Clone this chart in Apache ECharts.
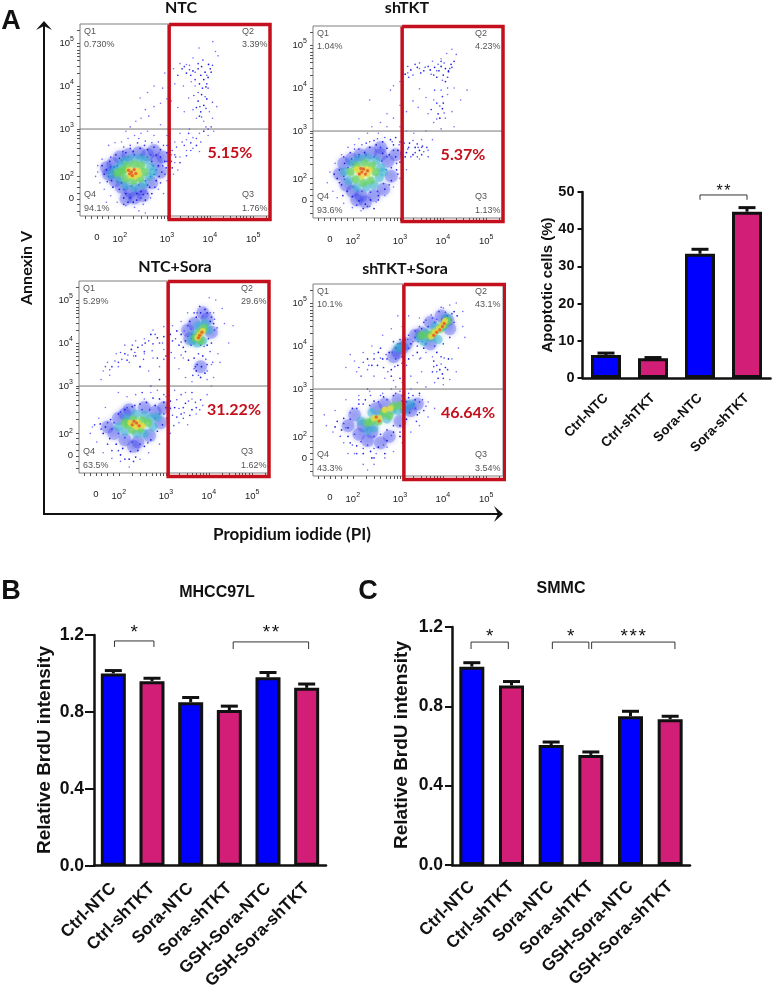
<!DOCTYPE html>
<html><head><meta charset="utf-8">
<style>html,body{margin:0;padding:0;background:#fff}#c{width:772px;height:992px}</style>
<script src="https://cdn.jsdelivr.net/npm/echarts@6/dist/echarts.min.js"></script>
</head><body><div id="c"></div>
<script>
// ---------- Bar data ----------
const apoCats = ['Ctrl-NTC','Ctrl-shTKT','Sora-NTC','Sora-shTKT'];
const apoVals = [6.2,5.3,33.4,44.7];
const apoTops = [6.7,5.5,34.6,45.8];
const brduCats = ['Ctrl-NTC','Ctrl-shTKT','Sora-NTC','Sora-shTKT','GSH-Sora-NTC','GSH-Sora-shTKT'];
const mhccVals = [1.0,0.96,0.85,0.81,0.98,0.925];
const mhccTops = [1.015,0.975,0.875,0.83,1.005,0.945];
const smmcVals = [1.0,0.905,0.605,0.555,0.75,0.735];
const smmcTops = [1.02,0.925,0.62,0.57,0.775,0.75];
const apoBrackets = [[2,3,49.2,47.9,51,'**']];
const mhccBrackets = [[0.03,1.05,1.169,1.138,1.231,'*'],[3.1,5.05,1.164,1.127,1.231,'**']];
const smmcBrackets = [[-0.02,0.92,1.124,1.089,1.17,'*'],[2.03,2.95,1.124,1.089,1.17,'*'],[3.02,5.12,1.124,1.089,1.17,'***']];

// ---------- Flow plots: values, in hundredths of a display decade ----------
const flowTitles = ['NTC','shTKT','NTC+Sora','shTKT+Sora'];
const flowQ1 = ['0.730%','1.04%','5.29%','10.1%'];
const flowQ2 = ['3.39%','4.23%','29.6%','43.1%'];
const flowQ3 = ['1.76%','1.13%','1.62%','3.54%'];
const flowQ4 = ['94.1%','93.6%','63.5%','43.3%'];
const flowGatePct = ['5.15%','5.37%','31.22%','46.64%'];
const flowGateX = [305,305,305,309];
const xTickVals = [138,191,300,399,499];
const yTickVals = [140,188,300,400,500];
const tickPowers = ['0','2','3','4','5'];
const minorTicks = [110,125,138,150,165,178,191,222,240,255,268,278,286,294,300,330,348,360,370,378,385,392,399,429,447,459,469,477,484,492,499,529];

const ntcSparse=[[406,503],[374,488],[412,480],[418,470],[345,450],[330,452],[315,440],[352,448],[360,465],[318,405],[338,400],[356,410],[365,400],[300,370],[285,360],[270,352],[258,330],[250,345],[240,325],[228,318],[215,305],[205,295],[270,400],[255,385],[238,372],[295,430],[290,395],[310,365],[325,350],[340,340],[350,372],[360,345],[368,325],[385,318],[398,340],[415,352],[405,325],[390,305],[375,290],[395,285],[408,295],[360,280],[345,275],[330,290],[318,270],[300,285],[285,310],[270,285],[255,295],[240,290],[225,285],[210,278],[195,270],[180,268],[165,262],[345,250],[360,255],[375,248],[330,235],[318,222],[310,240],[150,230],[140,215],[135,190],[145,175],[155,160],[170,145],[185,130],[205,122],[225,118],[245,125],[262,140],[280,160],[300,180],[292,150],[315,195],[325,205],[140,200],[160,130],[235,110],[250,105]];
const ntcBlue=[[372,440],[380,445],[388,432],[396,450],[400,440],[378,425],[385,415],[390,398],[375,405],[360,435],[345,430],[335,440],[395,420],[380,380],[372,365],[385,355],[378,340],[368,350],[392,370],[160,205],[168,225],[172,180],[182,240],[190,160],[205,150],[215,140],[230,150],[245,148],[260,165],[275,180],[288,200],[295,225],[300,245],[285,252],[270,258],[255,252],[238,255],[222,248],[205,245],[190,232],[178,212],[165,190],[298,210],[305,232],[312,210],[285,235],[275,240],[265,225],[280,215],[270,195],[282,190],[255,170],[240,155],[195,175],[180,195],[200,140],[222,130],[230,135],[210,130],[155,195],[150,215],[175,165],[265,150],[250,135]];
const ntcBlue2=[[175,200],[185,215],[195,228],[210,235],[225,240],[240,240],[255,235],[268,215],[275,205],[262,190],[250,180],[235,170],[218,168],[200,160],[185,178],[170,212],[290,215],[300,225],[295,195],[305,215],[310,225],[285,175],[262,240],[248,262],[232,268],[215,255],[198,248],[170,235],[162,178],[200,125],[240,140],[255,150],[272,165],[320,235],[330,222],[345,238],[355,268],[368,262],[385,295],[395,300],[350,290],[375,330],[382,395],[365,415],[355,425],[392,405],[402,432],[372,452],[340,445],[325,425]];
const ntcExtra=[[365,432],[392,425],[405,448],[352,438],[383,460],[395,395],[372,385],[388,375],[362,378],[376,352],[390,348],[380,328],[405,362],[352,300],[335,270],[322,258],[340,262],[355,250],[368,278],[378,270],[402,305],[300,262],[312,250],[318,240],[305,258],[292,262],[280,270],[265,268],[250,272],[235,278],[215,262],[200,258]];
const ntcHalo=[[165,195],[175,220],[180,180],[190,235],[195,165],[210,240],[215,155],[235,245],[240,160],[255,240],[265,175],[275,225],[285,200],[160,210],[290,235],[270,250],[225,140],[205,138],[245,145]];
const ntcCyan=[[180,205],[190,185],[200,225],[215,230],[235,232],[250,228],[262,212],[258,190],[245,172],[225,165],[205,170],[172,195],[268,200],[192,215]];
const ntcGreen=[[195,200],[205,185],[208,215],[225,218],[240,215],[248,200],[238,185],[222,180],[200,205],[186,198]];
const ntcYellow=[[212,205],[222,198],[232,203],[226,190],[215,192],[235,195]];
const ntcRed=[[218,200],[224,206],[214,196],[228,197],[220,192],[211,204]];

const shSparse=[[430,478],[420,490],[408,480],[395,468],[375,462],[345,445],[318,435],[300,415],[285,405],[278,395],[230,372],[345,398],[360,378],[378,372],[395,395],[410,385],[425,400],[440,372],[455,395],[420,345],[405,330],[378,320],[395,305],[425,310],[365,340],[342,355],[330,370],[315,345],[300,360],[285,330],[270,340],[255,320],[235,310],[225,295],[250,295],[270,310],[205,282],[195,268],[180,262],[165,245],[150,225],[138,205],[132,180],[145,160],[155,145],[170,132],[190,122],[210,115],[230,125],[245,135],[265,150],[285,170],[300,190],[315,210],[345,235],[365,255],[350,280],[332,295],[315,300],[300,310],[360,300],[375,280]];
const shBlue=[[395,450],[405,445],[412,438],[400,430],[390,440],[380,448],[418,455],[425,462],[370,442],[355,440],[340,448],[325,442],[312,432],[385,425],[405,415],[398,352],[388,340],[392,330],[400,365],[412,440],[322,272],[335,262],[345,255],[330,245],[315,250],[305,262],[295,255],[285,268],[270,260],[278,280],[290,285],[260,275],[245,268],[230,262],[218,250],[205,245],[188,235],[172,225],[160,210],[155,190],[165,175],[178,160],[190,148],[205,138],[220,130],[232,140],[250,150],[265,165],[280,185],[292,210],[300,228],[312,240],[290,240],[275,245],[260,248],[148,200],[168,150],[240,120],[215,120]];
const shBlue2=[[170,195],[180,215],[192,222],[205,240],[222,245],[240,240],[258,230],[268,210],[262,178],[248,160],[232,158],[212,160],[192,170],[172,188],[280,215],[292,225],[303,245],[320,262],[335,250],[350,245],[362,262],[300,275],[285,255],[270,240],[255,262],[240,278],[222,272],[205,258],[185,250],[170,240],[160,180],[200,128],[225,125],[250,140],[275,175],[295,200],[340,270],[352,265],[372,350],[385,365],[398,380],[410,425],[420,448],[395,462],[365,450],[348,435],[335,455],[320,425],[305,420],[378,430]];
const shExtra=[[402,458],[388,455],[415,445],[372,432],[358,448],[345,458],[330,430],[318,450],[385,440],[398,418],[410,400],[380,395],[392,358],[402,342],[385,328],[330,278],[342,262],[355,252],[325,240],[340,240],[310,272],[298,268],[318,258],[302,250],[282,275],[265,285],[248,282],[230,275],[212,268],[195,258],[350,262],[365,240]];
const shHalo=[[160,200],[170,225],[175,175],[188,235],[190,160],[208,245],[210,150],[232,250],[240,150],[255,245],[262,165],[272,230],[280,195],[290,245],[255,262],[220,135],[200,140]];
const shCyan=[[172,205],[182,185],[190,225],[205,235],[225,238],[245,232],[255,215],[252,192],[240,175],[222,170],[200,170],[262,205]];
const shGreen=[[186,205],[198,188],[200,218],[218,225],[235,220],[243,205],[232,185],[215,180]];
const shYellow=[[205,205],[218,212],[225,200],[212,195],[230,210],[200,212]];
const shRed=[[212,205],[220,200],[206,200],[216,212],[225,208],[210,213]];

const nsSparse=[[430,480],[415,500],[400,505],[410,470],[435,445],[455,440],[445,400],[420,375],[425,355],[405,350],[350,470],[335,450],[315,440],[295,438],[270,430],[250,410],[230,405],[205,395],[185,375],[165,355],[155,335],[150,315],[170,325],[190,345],[215,355],[240,345],[260,335],[285,345],[305,330],[330,340],[345,320],[360,310],[395,315],[410,320],[265,285],[250,270],[230,280],[210,275],[190,285],[160,250],[145,225],[130,205],[125,190],[140,170],[155,145],[175,132],[195,125],[215,112],[240,130],[260,145],[285,165],[310,190],[330,215],[350,210],[370,235],[385,255],[395,280],[405,300],[280,290],[300,275],[320,290],[345,285],[360,270],[225,370],[250,375],[270,365],[295,385],[320,365],[340,365]];
const nsBlue=[[395,470],[402,450],[390,478],[380,470],[370,460],[355,450],[410,445],[395,395],[405,400],[345,405],[335,420],[325,428],[310,420],[295,415],[280,412],[265,420],[252,400],[235,390],[220,385],[205,375],[360,410],[372,350],[382,345],[390,330],[370,335],[380,320],[365,365],[385,370],[352,360],[310,265],[320,250],[335,235],[345,260],[360,245],[305,240],[295,262],[285,270],[270,272],[255,262],[240,258],[222,252],[205,245],[190,235],[172,222],[160,205],[148,212],[155,190],[170,178],[185,165],[200,155],[218,148],[235,150],[250,160],[265,175],[280,195],[292,210],[302,225],[300,250],[275,255],[215,130],[230,135],[195,140],[340,390],[380,395]];
const nsBlue2=[[180,215],[195,240],[210,250],[228,255],[245,245],[262,245],[275,225],[285,235],[295,235],[300,250],[310,248],[325,228],[340,250],[355,232],[370,250],[380,268],[360,285],[258,168],[240,165],[222,170],[205,180],[190,190],[175,200],[165,215],[150,200],[135,210],[190,150],[175,150],[165,165],[205,130],[225,125],[360,420],[350,440],[365,470],[378,485],[405,460],[412,430],[398,410],[358,395],[345,380],[330,395],[315,405],[285,400],[270,398],[250,380],[230,370],[210,360],[190,355],[175,345],[368,345],[395,350],[375,375],[362,325],[240,345],[280,365],[300,370],[265,300],[245,285],[285,315]];
const nsExtra=[[350,415],[342,428],[358,432],[372,470],[385,462],[402,470],[412,455],[418,435],[335,402],[322,410],[305,408],[292,400],[275,420],[260,405],[245,395],[228,378],[212,372],[198,362],[182,358],[170,338],[160,345],[195,378],[222,395],[248,362],[268,382],[295,362],[312,378],[335,372],[388,392],[402,380],[392,362],[375,325],[365,340],[395,335],[408,355],[330,248],[342,238],[352,265],[368,262],[378,245],[315,232],[325,268],[335,280],[308,278],[295,280],[318,208],[340,225]];
const nsHalo=[[165,205],[180,190],[190,225],[205,175],[215,245],[235,170],[250,250],[262,185],[275,240],[288,215],[295,250],[205,235],[225,160],[355,410],[365,445],[395,455],[405,425],[350,430],[385,470],[380,345]];
const nsCyan=[[190,205],[205,195],[210,225],[230,235],[250,232],[265,225],[270,205],[250,190],[232,190],[280,228],[365,420],[375,440],[390,445],[398,430],[372,400],[385,405],[360,405]];
const nsGreen=[[212,210],[225,222],[245,220],[258,215],[240,200],[222,198],[205,215],[378,425],[388,435],[368,412],[380,405]];
const nsYellow=[[225,210],[235,215],[245,208],[232,205],[218,215],[378,420],[385,428],[373,412]];
const nsRed=[[232,214],[226,218],[238,208],[222,210],[378,418],[383,425],[375,412]];

const stSparse=[[445,480],[430,500],[415,495],[400,488],[445,445],[450,420],[435,395],[420,370],[430,340],[415,322],[400,310],[380,315],[360,305],[340,315],[325,330],[305,315],[285,320],[265,325],[240,330],[225,345],[200,340],[195,365],[215,385],[235,400],[260,425],[280,440],[305,445],[320,470],[345,465],[295,470],[185,380],[175,350],[345,370],[360,385],[375,375],[350,340],[325,300],[345,285],[365,270],[380,255],[365,235],[345,215],[325,200],[305,175],[285,155],[265,140],[240,125],[215,125],[195,150],[170,175],[145,200],[130,215],[125,240],[150,250],[175,275],[205,285],[230,295],[260,290],[290,305],[310,285],[245,150],[270,165],[225,112],[180,150]];
const stBlue=[[425,480],[432,470],[410,470],[398,462],[380,455],[365,445],[350,440],[335,420],[325,405],[312,415],[300,405],[290,395],[275,385],[260,370],[248,355],[235,355],[225,370],[280,345],[295,355],[310,340],[320,370],[340,385],[355,395],[385,385],[378,365],[392,345],[405,350],[412,370],[398,335],[388,325],[250,385],[305,375],[345,290],[332,265],[322,245],[340,240],[315,230],[300,215],[285,200],[270,180],[250,165],[232,155],[215,150],[200,168],[180,190],[165,205],[155,225],[170,232],[190,255],[205,265],[220,275],[240,272],[262,282],[285,285],[305,272],[320,280],[335,275],[300,190],[235,140],[265,150],[180,210],[150,212]];
const stBlue2=[[170,220],[185,230],[200,255],[215,265],[230,262],[250,270],[270,275],[290,290],[305,285],[315,270],[330,285],[345,270],[355,250],[338,225],[300,200],[285,215],[270,205],[255,195],[240,190],[225,170],[210,178],[195,195],[240,140],[200,150],[185,175],[225,300],[285,410],[300,415],[320,425],[335,435],[355,455],[375,465],[390,480],[420,475],[425,455],[415,420],[400,405],[380,400],[360,405],[340,400],[320,395],[305,360],[290,370],[270,370],[255,395],[240,370],[262,350],[280,330],[300,325],[385,355],[400,325],[410,345],[375,340],[395,375]];
const stExtra=[[345,445],[360,460],[372,472],[385,462],[405,478],[395,490],[418,460],[352,410],[342,410],[330,410],[318,415],[308,385],[295,405],[282,385],[268,380],[255,372],[240,382],[228,355],[215,362],[205,350],[210,330],[272,340],[288,352],[315,355],[330,378],[348,372],[385,340],[395,358],[402,372],[378,352],[345,245],[335,255],[352,275],[360,260],[320,290],[300,295],[280,300],[255,285],[232,285],[205,275],[185,245],[175,210],[162,190],[190,170],[215,162],[240,162],[262,170],[280,192]];
const stHalo=[[180,215],[195,240],[205,195],[225,180],[245,255],[255,175],[275,190],[265,265],[295,275],[300,225],[315,260],[325,250],[340,265],[215,215],[235,200],[285,375],[295,385],[305,395],[315,405],[335,425],[350,430],[370,455],[395,470],[410,460],[415,440],[370,405]];
const stCyan=[[210,225],[225,205],[240,210],[235,245],[255,240],[270,230],[280,250],[295,250],[310,250],[325,265],[305,400],[295,395],[345,420],[360,430],[380,445],[400,445],[408,465],[372,420],[388,415],[355,410]];
const stGreen=[[235,225],[250,225],[262,245],[275,238],[285,260],[300,262],[225,222],[350,425],[365,425],[378,430],[392,440],[402,450],[410,458]];
const stYellow=[[240,232],[252,232],[265,252],[278,255],[380,432],[390,440],[398,448],[372,422],[404,458]];
const stRed=[[245,235],[252,226],[385,432],[392,438],[378,425],[398,445],[402,452]];

const flowLayers=[
 {ntc:ntcHalo,sh:shHalo,ns:nsHalo,st:stHalo,c:'#2d35e8',s:13,o:.28,b:5},
 {ntc:ntcSparse,sh:shSparse,ns:nsSparse,st:stSparse,c:'#6f6fff',s:1.6,o:1,b:0},
 {ntc:ntcBlue,sh:shBlue,ns:nsBlue,st:stBlue,c:'#1c1cdc',s:1.7,o:1,b:0},
 {ntc:ntcBlue2,sh:shBlue2,ns:nsBlue2,st:stBlue2,c:'#3a3af0',s:1.7,o:1,b:0},
 {ntc:ntcExtra,sh:shExtra,ns:nsExtra,st:stExtra,c:'#4a4af5',s:1.6,o:1,b:0},
 {ntc:ntcCyan,sh:shCyan,ns:nsCyan,st:stCyan,c:'#2fb0d0',s:9,o:.4,b:4},
 {ntc:ntcGreen,sh:shGreen,ns:nsGreen,st:stGreen,c:'#62d060',s:8,o:.55,b:3},
 {ntc:ntcYellow,sh:shYellow,ns:nsYellow,st:stYellow,c:'#e2dc45',s:6,o:.7,b:2},
 {ntc:ntcRed,sh:shRed,ns:nsRed,st:stRed,c:'#e8602c',s:3,o:.8,b:1}
];
const flowKeys=['ntc','sh','ns','st'];
const flowBox=[[80,24],[313,26],[79,281],[313,284]];
const flowMin=[99,98], flowMax=[538,544];

const grid=[],xAxis=[],yAxis=[],series=[],graphic=[];
const ARIAL='"Liberation Sans",Arial,sans-serif', LATO='Lato,"Open Sans",sans-serif';
function txt(t,x,y,o){graphic.push({type:'text',x,y,rotation:o.rot||0,silent:true,style:{text:t,fill:o.fill||'#111',font:(o.w||'normal')+' '+o.size+'px '+(o.fam||ARIAL),textAlign:o.al||'center',textVerticalAlign:'middle'}});}

flowKeys.forEach((k,i)=>{
  const [L,T]=flowBox[i];
  grid.push({left:L,top:T,width:190,height:192,show:true,borderColor:'#7f7f7f',borderWidth:1,backgroundColor:'#fff'});
  const rich={s:{fontSize:7,fontFamily:ARIAL,color:'#222',padding:[0,0,7,0]},b:{fontSize:9.5,fontFamily:ARIAL,color:'#222'}};
  const fmt=vals=>v=>{const p=tickPowers[vals.indexOf(v)];return p==='0'?'{b|0}':'{b|10}{s|'+p+'}';};
  xAxis.push({type:'value',gridIndex:i,min:flowMin[0],max:flowMax[0],splitLine:{show:false},axisLine:{show:false},
    axisTick:{show:true,length:3,lineStyle:{color:'#555',width:1},customValues:minorTicks},
    axisLabel:{show:true,margin:16,customValues:xTickVals,formatter:fmt(xTickVals),rich}});
  yAxis.push({type:'value',gridIndex:i,min:flowMin[1],max:flowMax[1],splitLine:{show:false},axisLine:{show:false},
    axisTick:{show:true,length:3,lineStyle:{color:'#555',width:1},customValues:minorTicks},
    axisLabel:{show:true,margin:6,customValues:yTickVals,formatter:fmt(yTickVals),rich}});
  flowLayers.forEach(l=>series.push({type:'scatter',xAxisIndex:i,yAxisIndex:i,data:l[k],symbolSize:l.s,silent:true,animation:false,itemStyle:{color:l.c,opacity:l.o,shadowBlur:l.b,shadowColor:l.c}}));
  series.push({type:'line',xAxisIndex:i,yAxisIndex:i,data:[[flowMin[0],300],[flowMax[0],300]],symbol:'none',silent:true,animation:false,lineStyle:{color:'#777',width:1}});
  const gx=flowGateX[i],R=flowMax[0]+(i==3?4:0),Tp=flowMax[1]-1,B=90;
  series.push({type:'line',xAxisIndex:i,yAxisIndex:i,clip:false,z:5,data:[[gx,Tp],[R,Tp],[R,B],[gx,B],[gx,Tp]],symbol:'none',silent:true,animation:false,lineStyle:{color:'#c40f1c',width:3.5,join:'miter'}});
  const q={size:9,fill:'#555',al:'left'};
  txt('Q1',L+4,T+8,q);txt(flowQ1[i],L+4,T+21,q);
  txt('Q2',L+162,T+8,q);txt(flowQ2[i],L+162,T+21,q);
  txt('Q4',L+4,T+171,q);txt(flowQ4[i],L+4,T+185,q);
  txt('Q3',L+162,T+171,q);txt(flowQ3[i],L+162,T+185,q);
  txt(flowGatePct[i],L+(i<2?150:155),T+129,{size:16,w:'bold',fam:LATO,fill:'#c40f1c'});
});
[[181,8],[407,8],[175,267],[405,269]].forEach((p,i)=>txt(flowTitles[i],p[0],p[1],{size:16,w:'bold',fam:LATO}));

// bar panels
function barPanel(idx,box,cats,vals,tops,brackets,cfg){
  grid.push({left:box[0],top:box[1],width:box[2],height:box[3]});
  xAxis.push({type:'category',gridIndex:idx,data:cats,axisLine:{lineStyle:{color:'#111',width:2.5}},
    axisTick:{alignWithLabel:true,length:7,lineStyle:{color:'#111',width:2}},
    axisLabel:{rotate:45,interval:0,margin:cfg.xm,color:'#111',fontFamily:ARIAL,fontWeight:'bold',fontSize:cfg.xf}});
  yAxis.push({type:'value',gridIndex:idx,min:0,max:cfg.max,interval:cfg.step,splitLine:{show:false},
    axisLine:{show:true,lineStyle:{color:'#111',width:2.5}},axisTick:{show:true,length:cfg.yt,lineStyle:{color:'#111',width:2}},
    axisLabel:{margin:cfg.ym,color:'#111',fontFamily:ARIAL,fontWeight:'bold',fontSize:cfg.yf,formatter:v=>cfg.dec?v.toFixed(cfg.dec):String(v)}});
  series.push({type:'bar',xAxisIndex:idx,yAxisIndex:idx,data:vals,barWidth:cfg.bw,animation:false,silent:true,
    itemStyle:{color:p=>p.dataIndex%2?'#d31e78':'#0000ff',borderColor:'#111',borderWidth:3}});
  series.push({type:'custom',xAxisIndex:idx,yAxisIndex:idx,animation:false,silent:true,z:1,data:tops.map((t,i)=>[i,vals[i],t]),
    encode:{x:0,y:[1,2]},
    renderItem:(p,api)=>{const a=api.coord([api.value(0),api.value(1)]),b=api.coord([api.value(0),api.value(2)]),h=cfg.cap/2;
      const st={stroke:'#111',lineWidth:3};
      return {type:'group',children:[{type:'line',shape:{x1:a[0],y1:a[1],x2:b[0],y2:b[1]},style:st},{type:'line',shape:{x1:a[0]-h,y1:b[1],x2:a[0]+h,y2:b[1]},style:st}]};}});
  series.push({type:'custom',xAxisIndex:idx,yAxisIndex:idx,animation:false,silent:true,z:6,data:brackets.map(b=>b.slice(0,5)),
    encode:{x:0,y:2},
    renderItem:(p,api)=>{const f=api.value(0),g=api.value(1),top=api.coord([0,api.value(2)])[1],bot=api.coord([0,api.value(3)])[1],sy=api.coord([0,api.value(4)])[1];
      const c0=api.coord([0,0])[0],c1=api.coord([1,0])[0],xa=c0+f*(c1-c0),xb=c0+g*(c1-c0);
      const label=brackets[p.dataIndex][5];
      return {type:'group',children:[
        {type:'polyline',shape:{points:[[xa,bot],[xa,top],[xb,top],[xb,bot]]},style:{stroke:'#333',lineWidth:1,fill:null}},
        {type:'text',style:{text:label.split('').join('\u200a'),x:(xa+xb)/2,y:sy+cfg.sf*0.22,fill:'#111',font:'normal '+cfg.sf+'px '+ARIAL,textAlign:'center',textVerticalAlign:'middle'}}]};}});
}
barPanel(4,[582.5,192,188,186],apoCats,apoVals,apoTops,apoBrackets,{max:50,step:10,dec:0,xf:13.5,yf:14.5,xm:18,ym:8,yt:5,bw:30,cap:17,sf:16});
barPanel(5,[94,635,232,231],brduCats,mhccVals,mhccTops,mhccBrackets,{max:1.2,step:0.4,dec:1,xf:17,yf:17.5,xm:20,ym:10,yt:9,bw:25,cap:17,sf:19});
barPanel(6,[452,627,238,238],brduCats,smmcVals,smmcTops,smmcBrackets,{max:1.2,step:0.4,dec:1,xf:17,yf:17.5,xm:19,ym:9,yt:7,bw:25,cap:17,sf:19});

// annotations
txt('A',11,22,{size:27,w:'bold'});txt('B',11,592,{size:27,w:'bold'});txt('C',368,592,{size:27,w:'bold'});
txt('Annexin V',27,268,{size:16,w:'bold',fam:LATO,rot:Math.PI/2});
txt('Propidium iodide (PI)',292,535,{size:17,w:'bold',fam:LATO});
txt('Apoptotic cells (%)',548,285,{size:15,w:'bold',rot:Math.PI/2});
txt('Relative BrdU intensity',45,750,{size:19,w:'bold',rot:Math.PI/2});
txt('Relative BrdU intensity',402,745,{size:19,w:'bold',rot:Math.PI/2});
txt('MHCC97L',217,593,{size:16,w:'bold'});
txt('SMMC',561,589,{size:16,w:'bold'});
graphic.push({type:'polyline',silent:true,shape:{points:[[44,24],[44,514],[500,514]]},style:{stroke:'#111',lineWidth:2,fill:null}});
graphic.push({type:'polygon',silent:true,shape:{points:[[44,21],[52,30],[44,26],[36,30]]},style:{fill:'#111'}});
graphic.push({type:'polygon',silent:true,shape:{points:[[503,514],[494,506],[498,514],[494,522]]},style:{fill:'#111'}});

const chart=echarts.init(document.getElementById('c'),null,{renderer:'canvas'});
chart.setOption({animation:false,backgroundColor:'#fff',grid,xAxis,yAxis,series,graphic});
</script></body></html>
